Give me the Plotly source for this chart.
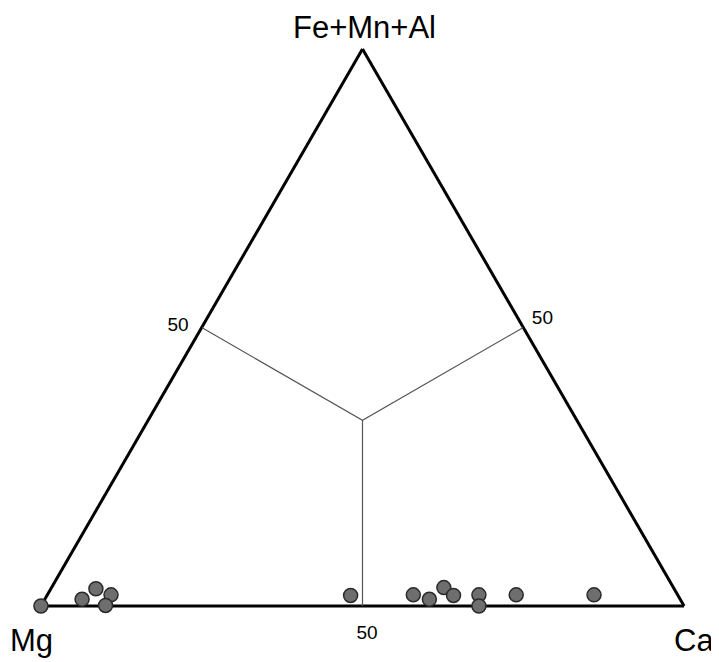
import plotly.graph_objects as go

# Sample compositions (percent): Fe+Mn+Al (a), Mg (b), Ca (c)
fe_mn_al = [0.0, 1.2, 3.1, 2.0, 0.1, 1.9, 2.0, 1.2, 3.3, 1.9, 2.0, 0.0, 2.0, 2.0]
ca = [0.0, 5.8, 7.0, 9.9, 10.0, 47.2, 56.9, 59.8, 61.0, 63.2, 67.1, 68.1, 72.9, 85.0]
mg = [100 - a - c for a, c in zip(fe_mn_al, ca)]

# Field boundaries: edge midpoints to centroid
bound_a = [50, 100/3, 50, None, 100/3, 0]
bound_b = [50, 100/3, 0, None, 100/3, 50]
bound_c = [0, 100/3, 50, None, 100/3, 50]

OFF = 8  # default page body margin
W, H = 719 - OFF, 662 - OFF


def px(x):
    return (x - OFF) / W


def py(y):
    return 1 - (y - OFF) / H


fig = go.Figure()
fig.add_trace(go.Scatterternary(a=bound_a, b=bound_b, c=bound_c, mode="lines",
                                line=dict(color="#555555", width=1.2),
                                connectgaps=False, hoverinfo="skip"))
fig.add_trace(go.Scatterternary(a=fe_mn_al, b=mg, c=ca, mode="markers", cliponaxis=False,
                                marker=dict(size=14, color="#6e6e6e",
                                            line=dict(color="#2a2a2a", width=1.5))))

axis_common = dict(tickvals=[50], ticktext=["50"], ticks="outside", ticklen=9,
                   tickcolor="rgba(0,0,0,0)", showgrid=False,
                   linecolor="black", linewidth=3, layer="below traces",
                   tickfont=dict(size=19, color="black", family="Liberation Sans, Arial"),
                   title=dict(text=""), min=0)
fig.update_layout(
    width=W, height=H,
    margin=dict(l=0, r=0, t=0, b=0),
    paper_bgcolor="white",
    showlegend=False,
    font=dict(family="Liberation Sans, Arial", color="black"),
    ternary=dict(
        sum=100,
        bgcolor="white",
        domain=dict(x=[px(40.5), px(684.5)], y=[py(606), py(49)]),
        aaxis=axis_common,
        baxis=axis_common,
        caxis=axis_common,
    ),
    annotations=[
        dict(text="Fe+Mn+Al", x=px(364), y=py(OFF), xref="paper", yref="paper",
             showarrow=False, font=dict(size=31), xanchor="center", yanchor="top"),
        dict(text="Mg", x=px(8), y=py(640), xref="paper", yref="paper",
             showarrow=False, font=dict(size=31), xanchor="left", yanchor="middle"),
        dict(text="Ca", x=px(672), y=py(640), xref="paper", yref="paper",
             showarrow=False, font=dict(size=31), xanchor="left", yanchor="middle"),
    ],
)
fig.write_html("out.html")
